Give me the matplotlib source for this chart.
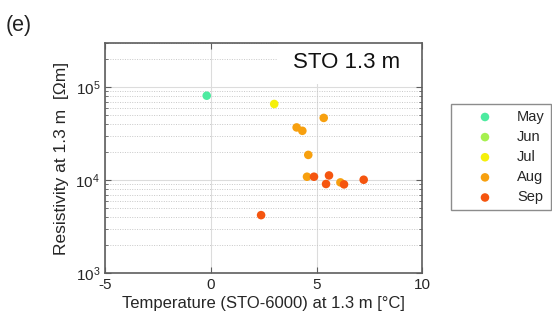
import matplotlib.pyplot as plt
from matplotlib.ticker import LogLocator, NullFormatter

plt.rcParams['font.family'] = ['Liberation Sans', 'DejaVu Sans']
plt.rcParams['mathtext.default'] = 'regular'
plt.rcParams['axes.unicode_minus'] = False

# STO 1.3 m readings, grouped by month
months = ['May', 'Jun', 'Jul', 'Aug', 'Sep']
month_colors = ['#4deba0', '#a6f04f', '#f5f00a', '#f7a00f', '#f5550f']

temp = {
    'May': [-0.19],
    'Jun': [],
    'Jul': [3.00],
    'Aug': [5.34, 4.06, 4.33, 4.61, 4.55, 6.13],
    'Sep': [4.88, 5.59, 5.45, 6.30, 7.23, 2.38],
}
resist = {
    'May': [80900],
    'Jun': [],
    'Jul': [65900],
    'Aug': [46700, 36900, 33950, 18700, 10900, 9475],
    'Sep': [10900, 11250, 9110, 9020, 10120, 4215],
}

fig = plt.figure(figsize=(5.52, 3.27), dpi=100)
ax = fig.add_axes([0.1902, 0.1642, 0.5748, 0.7052])
ax.set_axisbelow(True)

for m, c in zip(months, month_colors):
    ax.scatter(temp[m], resist[m], s=38, color=c, edgecolors='none',
               label=m, zorder=3)

ax.set_yscale('log')
ax.set_xlim(-5, 10)
ax.set_ylim(1e3, 3e5)
ax.set_xticks([-5, 0, 5, 10])
ax.yaxis.set_major_locator(LogLocator(base=10, numticks=10))
ax.yaxis.set_minor_locator(LogLocator(base=10, subs=range(2, 10), numticks=10))
ax.yaxis.set_minor_formatter(NullFormatter())

ax.grid(True, which='major', color='#dcdcdc', lw=0.8)
ax.grid(True, which='minor', axis='y', color='#c8c8c8', lw=0.7,
        linestyle=(0, (1, 1.5)))

for s in ax.spines.values():
    s.set_color('#5e5e5e')
    s.set_linewidth(1.2)
ax.tick_params(which='both', direction='in', top=True, right=True,
               color='#5e5e5e', labelcolor='#262626', labelsize=11)
ax.tick_params(which='major', length=4)
ax.tick_params(which='minor', length=2)

ax.set_xlabel('Temperature (STO-6000) at 1.3 m [°C]', fontsize=12,
              color='#262626', labelpad=3)
ax.set_ylabel('Resistivity at 1.3 m  [Ωm]', fontsize=12.5,
              color='#262626', labelpad=5)

# panel tag on a white patch that hides the grid behind it
ax.axvspan(3.2, 10, ymin=0.823, ymax=1, color='white', lw=0, zorder=1.9)
ax.text(0.93, 0.915, 'STO 1.3 m', transform=ax.transAxes, fontsize=16,
        ha='right', va='center', color='#111111', zorder=2)

fig.text(0.011, 0.905, '(e)', fontsize=15.5, color='#222222')

leg = ax.legend(loc='upper left', bbox_to_anchor=(0.8165, 0.682),
                bbox_transform=fig.transFigure, fontsize=10.5, frameon=True,
                fancybox=False, edgecolor='#707070', borderpad=0.4,
                handletextpad=0.25, labelspacing=0.42, borderaxespad=0,
                handlelength=3.9, scatterpoints=1)
leg.get_frame().set_linewidth(1.0)
for t in leg.get_texts():
    t.set_color('#262626')

fig.savefig('out.png', dpi=100)
